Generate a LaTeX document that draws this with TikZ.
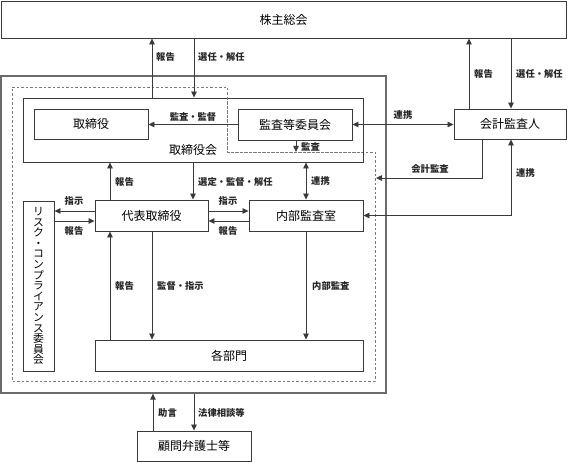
\documentclass[tikz,border=0pt]{standalone}
\usepackage{fontspec}
\newfontfamily\jp{Noto Sans CJK JP}
\usetikzlibrary{arrows.meta}
\definecolor{ln}{HTML}{3A3A3A}
\definecolor{outerc}{HTML}{6A6A6A}
\definecolor{dashc}{HTML}{7A7A7A}
\tikzset{
  box/.style={draw=ln, line width=0.9pt, fill=white, inner sep=0pt, font=\jp\fontsize{12}{14}\selectfont},
  arr/.style={draw=ln, line width=0.8pt, -{Triangle[length=6pt,width=5.5pt]}},
  darr/.style={draw=ln, line width=0.8pt, {Triangle[length=6pt,width=5.5pt]}-{Triangle[length=6pt,width=5.5pt]}},
  plain/.style={draw=ln, line width=0.8pt},
  lbl/.style={font=\jp\bfseries\fontsize{9.3}{11}\selectfont, inner sep=0pt, text=black!85},
}
\newcommand{\boxat}[6]{\node[box, minimum width=#4-#2, minimum height=#5-#3] (#1) at ({(#2+#4)/2},{(#3+#5)/2}) {#6};}
\begin{document}
\begin{tikzpicture}[x=1pt,y=-1pt]
\useasboundingbox (0,0) rectangle (568,462);
% outer company box
\node[draw=outerc, line width=1.3pt, minimum width=385, minimum height=317, inner sep=0pt] (outer) at (193.5,234.5) {};
% dashed region
\draw[dashc, line width=0.9pt, dash pattern=on 2.5pt off 2pt] (12,87) -- (227,87) -- (227,152) -- (375,152) -- (375,381) -- (12,381) -- cycle;
% boxes
\boxat{share}{1}{1}{566}{38}{株主総会}
\node[draw=ln, line width=0.9pt, minimum width=340, minimum height=64, inner sep=0pt] (board) at (193,130) {};
\node[font=\jp\fontsize{12}{14}\selectfont, inner sep=0pt] (boardlbl) at (193,150) {取締役会};
\boxat{dir}{34}{109}{148}{139}{取締役}
\boxat{audit}{238}{109}{352}{140}{監査等委員会}
\boxat{auditor}{454}{109}{566}{139}{会計監査人}
\boxat{rep}{95}{200}{208}{231}{代表取締役}
\boxat{internal}{249}{200}{363}{231}{内部監査室}
\node[box, minimum width=31, minimum height=170, align=center, font=\jp\fontsize{10.8}{10.6}\selectfont] (risk) at (38.5,286) {リ\\ス\\ク\\・\\コ\\ン\\プ\\ラ\\イ\\ア\\ン\\ス\\委\\員\\会};
\boxat{depts}{95}{340}{363}{371}{各部門}
\boxat{lawyer}{137}{431}{251}{461}{顧問弁護士等}
% redraw dashed over inner board area
\draw[dashc, line width=0.9pt, dash pattern=on 2.5pt off 2pt] (227,98) -- (227,152) -- (363,152);
% coordinates
\coordinate (auditpt) at (296,152);
\coordinate (accpt) at (376,178);
% shareholder arrows
\draw[arr] (board.north -| 152,0) -- (share.south -| 152,0);
\draw[arr] (share.south -| 194,0) -- (board.north -| 194,0);
\draw[arr] (auditor.north -| 469,0) -- (share.south -| 469,0);
\draw[arr] (share.south -| 511,0) -- (auditor.north -| 511,0);
\node[lbl, anchor=west] (l1) at (156,57) {報告};
\node[lbl, anchor=west] (l2) at (198,57) {選任・解任};
\node[lbl, anchor=west] (l3) at (474,74) {報告};
\node[lbl, anchor=west] (l4) at (516,74) {選任・解任};
% audit committee
\draw[arr] (audit.west) -- (dir.east |- audit.west);
\node[lbl] (l5) at (193,117) {監査・監督};
\draw[arr] (audit.south -| auditpt) -- (auditpt);
\node[lbl, anchor=west] (l6) at (301,147) {監査};
\draw[darr] (audit.east) -- (auditor.west |- audit.east);
\node[lbl] (l7) at (403,115) {連携};
% accounting auditor
\draw[arr] (auditor.south -| 482,0) |- (accpt);
\node[lbl] (l8) at (430,169) {会計監査};
\draw[darr] (auditor.south -| 511,0) |- (internal.east);
\node[lbl, anchor=west] (l9) at (516,173) {連携};
% board to rep / internal
\draw[arr] (rep.north -| 110,0) -- (board.south -| 110,0);
\draw[arr] (board.south -| 193,0) -- (rep.north -| 193,0);
\draw[darr] (board.south -| internal.north) -- (internal.north);
\node[lbl, anchor=west] (l10) at (115,182) {報告};
\node[lbl, anchor=west] (l11) at (198,182) {選定・監督・解任};
\node[lbl, anchor=west] (l12) at (311,181) {連携};
% rep <-> internal
\draw[arr] (rep.east |- 0,211) -- (internal.west |- 0,211);
\draw[arr] (internal.west |- 0,221) -- (rep.east |- 0,221);
\node[lbl] (l13) at (228,201) {指示};
\node[lbl] (l14) at (228,231) {報告};
% rep <-> risk
\draw[arr] (rep.west |- 0,211) -- (risk.east |- 0,211);
\draw[arr] (risk.east |- 0,221) -- (rep.west |- 0,221);
\node[lbl] (l15) at (74,201) {指示};
\node[lbl] (l16) at (74,231) {報告};
% rep / internal to depts
\draw[arr] (depts.north -| 110,0) -- (rep.south -| 110,0);
\draw[arr] (rep.south -| 152,0) -- (depts.north -| 152,0);
\draw[arr] (internal.south) -- (depts.north -| internal.south);
\node[lbl, anchor=west] (l17) at (115,286) {報告};
\node[lbl, anchor=west] (l18) at (157,286) {監督・指示};
\node[lbl, anchor=west] (l19) at (312,286) {内部監査};
% lawyer
\draw[arr] (lawyer.north -| 153,0) -- (outer.south -| 153,0);
\draw[arr] (outer.south -| 194,0) -- (lawyer.north -| 194,0);
\node[lbl, anchor=west] (l20) at (158,413) {助言};
\node[lbl, anchor=west] (l21) at (198,413) {法律相談等};
\end{tikzpicture}
\end{document}
